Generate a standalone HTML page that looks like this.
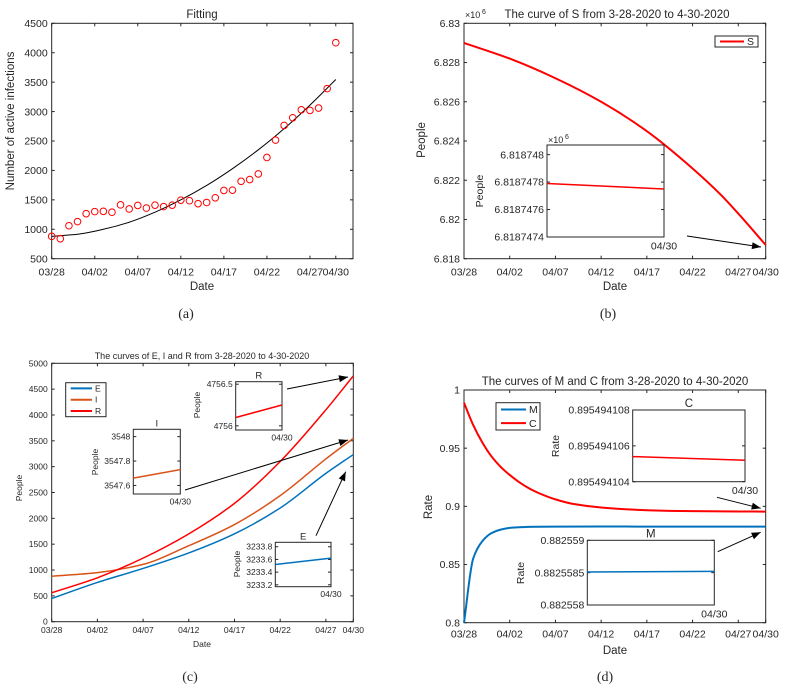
<!DOCTYPE html>
<html><head><meta charset="utf-8"><style>
html,body{margin:0;padding:0;background:#fff;}
svg{display:block;font-family:"Liberation Sans",sans-serif;}
.cap{font-family:"Liberation Serif",serif;font-size:14px;}
</style></head><body>
<svg id="fig" width="790" height="689" viewBox="0 0 790 689" xmlns="http://www.w3.org/2000/svg"></svg>
<script>
// ---------- data ----------
const dateTickDays = [0,5,10,15,20,25,30,33];
const dateTickLabels = ["03/28","04/02","04/07","04/12","04/17","04/22","04/27","04/30"];
// (a) fitting
const aObsDays = [0,1,2,3,4,5,6,7,8,9,10,11,12,13,14,15,16,17,18,19,20,21,22,23,24,25,26,27,28,29,30,31,32,33];
const aObsValues = [880,840,1060,1130,1265,1300,1305,1290,1415,1345,1405,1360,1410,1385,1410,1495,1485,1435,1455,1535,1660,1665,1815,1845,1940,2220,2515,2765,2895,3030,3020,3060,3390,4170];
const aFitDays = [0,3,6,9,12,15,18,21,24,27,30,33];
const aFitValues = [880,915,1000,1120,1290,1500,1745,2030,2350,2710,3110,3545];
const aYTicks = [500,1000,1500,2000,2500,3000,3500,4000,4500];
// (b) S
const bDays = [0,5,10,15,20,25,28,30,33];
const bS = [6.8290,6.8282,6.8272,6.8260,6.8245,6.8226,6.8213,6.8203,6.8187];
const bYTicks = [6.818,6.82,6.822,6.824,6.826,6.828,6.83];
const bYTickLabels = ["6.818","6.82","6.822","6.824","6.826","6.828","6.83"];
const bInsetVals = [6.81874779,6.81874775];
const bInsetTicks = [6.8187474,6.8187476,6.8187478,6.818748];
const bInsetTickLabels = ["6.8187474","6.8187476","6.8187478","6.818748"];
// (c) E I R
const cDays = [0,5,10,15,20,25,30,33];
const cE = [450,760,1030,1330,1700,2200,2870,3234];
const cI = [880,950,1110,1470,1880,2440,3150,3548];
const cR = [560,850,1230,1700,2290,3100,4100,4756];
const cYTicks = [0,500,1000,1500,2000,2500,3000,3500,4000,4500,5000];
const cRInset = [4756.1,4756.25];
const cRInsetTicks = [4756,4756.5];
const cIInset = [3547.66,3547.73];
const cIInsetTicks = [3547.6,3547.8,3548];
const cEInset = [3233.52,3233.62];
const cEInsetTicks = [3233.2,3233.4,3233.6,3233.8];
// (d) M C
const dCDays = [0,1,2,3,4,5,6,7,8,10,12,15,20,25,30,33];
const dC = [0.989,0.970,0.955,0.943,0.934,0.927,0.921,0.916,0.912,0.906,0.902,0.899,0.8967,0.8959,0.8956,0.8955];
const dMDays = [0,1,2,3,4,5,6,7,8,10,15,20,25,30,33];
const dM = [0.800,0.855,0.870,0.877,0.880,0.8815,0.882,0.8824,0.8825,0.8826,0.8827,0.8826,0.8826,0.8826,0.8826];
const dYTicks = [0.8,0.85,0.9,0.95,1];
const dYTickLabels = ["0.8","0.85","0.9","0.95","1"];
const dCInset = [0.8954941054,0.8954941052];
const dCInsetTicks = [0.895494104,0.895494106,0.895494108];
const dMInset = [0.88255851,0.88255852];
const dMInsetTicks = [0.882558,0.8825585,0.882559];

// ---------- helpers ----------
const NS="http://www.w3.org/2000/svg";
const fig=document.getElementById('fig');
function mk(parent,tag,attrs,name,inter){
  const e=document.createElementNS(NS,tag);
  for(const k in attrs) e.setAttribute(k,attrs[k]);
  
  
  parent.appendChild(e);return e;
}
function txt(parent,x,y,s,size,name,opts){
  opts=opts||{};
  const a={x:x,y:y,'font-size':size,'text-anchor':opts.anchor||'middle',fill:'#262626'};
  if(opts.rot) a.transform='rotate(-90 '+x+' '+y+')';
  if(opts.cls) a['class']=opts.cls;
  const t=mk(parent,'text',a,name,false);t.textContent=s;return t;
}
function axes(name,x0,x1,y0,y1,xmin,xmax,ymin,ymax){
  const g=mk(fig,'g',{},name,false);
  const sx=v=>x0+(v-xmin)/(xmax-xmin)*(x1-x0);
  const sy=v=>y1-(v-ymin)/(ymax-ymin)*(y1-y0);
  mk(g,'rect',{x:x0,y:y0,width:x1-x0,height:y1-y0,fill:'#fff',stroke:'#262626','stroke-width':1},name+'-box',false);
  return {g,sx,sy,x0,x1,y0,y1};
}
function xticks(ax,days,labels,size,ly,tl){
  days.forEach((d,i)=>{
    const x=ax.sx(d);
    mk(ax.g,'line',{x1:x,x2:x,y1:ax.y1,y2:ax.y1-tl,stroke:'#262626'},'x-tick',false);
    mk(ax.g,'line',{x1:x,x2:x,y1:ax.y0,y2:ax.y0+tl,stroke:'#262626'},'x-tick-top',false);
    txt(ax.g,x,ly,labels[i],size,'x-tick-label');
  });
}
function yticks(ax,vals,labels,size,tl){
  vals.forEach((v,i)=>{
    const y=ax.sy(v);
    mk(ax.g,'line',{x1:ax.x0,x2:ax.x0+tl,y1:y,y2:y,stroke:'#262626'},'y-tick',false);
    mk(ax.g,'line',{x1:ax.x1,x2:ax.x1-tl,y1:y,y2:y,stroke:'#262626'},'y-tick-right',false);
    txt(ax.g,ax.x0-4,y+size*0.35,labels[i],size,'y-tick-label',{anchor:'end'});
  });
}
// monotone cubic (Fritsch-Carlson) path in pixel space
function smoothPath(pts){
  const n=pts.length,dx=[],dy=[],m=[],t=[];
  for(let i=0;i<n-1;i++){dx.push(pts[i+1][0]-pts[i][0]);dy.push(pts[i+1][1]-pts[i][1]);m.push(dy[i]/dx[i]);}
  t[0]=m[0];t[n-1]=m[n-2];
  for(let i=1;i<n-1;i++){
    if(m[i-1]*m[i]<=0) t[i]=0;
    else{const w1=2*dx[i]+dx[i-1],w2=dx[i]+2*dx[i-1];t[i]=(w1+w2)/(w1/m[i-1]+w2/m[i]);}
  }
  let d='M'+pts[0][0]+','+pts[0][1];
  for(let i=0;i<n-1;i++){
    const h=dx[i]/3;
    d+=' C'+(pts[i][0]+h)+','+(pts[i][1]+t[i]*h)+' '+(pts[i+1][0]-h)+','+(pts[i+1][1]-t[i+1]*h)+' '+pts[i+1][0]+','+pts[i+1][1];
  }
  return d;
}
function line(ax,xs,ys,color,w,name){
  const pts=xs.map((x,i)=>[ax.sx(x),ax.sy(ys[i])]);
  mk(ax.g,'path',{d:smoothPath(pts),fill:'none',stroke:color,'stroke-width':w},name,false);
}
function arrow(g,x1,y1,x2,y2,name){
  mk(g,'line',{x1,y1,x2,y2,stroke:'#000','stroke-width':1},name,false);
  const a=Math.atan2(y2-y1,x2-x1),L=9,W=3.5;
  const bx=x2-L*Math.cos(a),by=y2-L*Math.sin(a);
  const p=[[x2,y2],[bx+W*Math.sin(a),by-W*Math.cos(a)],[bx-W*Math.sin(a),by+W*Math.cos(a)]];
  mk(g,'polygon',{points:p.map(q=>q.join(',')).join(' '),fill:'#000'},name+'-head',false);
}
function inset(parent,name,x0,x1,y0,y1,ymin,ymax,ticks,labels,vals,color,size,title){
  const g=mk(parent,'g',{},name,false);
  const sy=v=>y1-(v-ymin)/(ymax-ymin)*(y1-y0);
  mk(g,'rect',{x:x0,y:y0,width:x1-x0,height:y1-y0,fill:'#fff',stroke:'#262626'},name+'-box',false);
  ticks.forEach((v,i)=>{
    const y=sy(v);
    mk(g,'line',{x1:x0,x2:x0+3,y1:y,y2:y,stroke:'#262626'},name+'-tick',false);
    mk(g,'line',{x1:x1,x2:x1-3,y1:y,y2:y,stroke:'#262626'},name+'-tick-right',false);
    txt(g,x0-3,y+size*0.35,labels[i],size,name+'-tick-label',{anchor:'end'});
  });
  mk(g,'line',{x1:x0,y1:sy(vals[0]),x2:x1,y2:sy(vals[1]),stroke:color,'stroke-width':1.5},name+'-line',false);
  txt(g,x1,y1+size+2,'04/30',size,name+'-x-label');
  if(title) txt(g,(x0+x1)/2,y0-3,title,size+1,name+'-title');
  return g;
}
function legend(g,name,x0,y0,w,h,items,size){
  const lg=mk(g,'g',{},name,true);
  mk(lg,'rect',{x:x0,y:y0,width:w,height:h,fill:'#fff',stroke:'#262626'},name+'-box',false);
  const step=h/items.length;
  items.forEach((it,i)=>{
    const y=y0+step*(i+0.5);
    mk(lg,'line',{x1:x0+5,x2:x0+w-14,y1:y,y2:y,stroke:it[1],'stroke-width':2},'legend-swatch-'+it[0],false);
    txt(lg,x0+w-11,y+size*0.35,it[0],size,'legend-entry-'+it[0],{anchor:'start'});
  });
}

// ---------- (a) ----------
const A=axes('panel-a-fitting',51.7,353,23.3,258.7,0,35,500,4500);
xticks(A,dateTickDays,dateTickLabels,10.5,275.5,3);
yticks(A,aYTicks,aYTicks.map(String),10.5,3);
line(A,aFitDays,aFitValues,'#000',1,'fit-curve');
aObsDays.forEach((d,i)=>{
  mk(A.g,'circle',{cx:A.sx(d),cy:A.sy(aObsValues[i]),r:3.3,fill:'none',stroke:'#f00','stroke-width':1},'observed-point',false);
});
txt(fig,202,18,'Fitting',11.5,'title-a');
txt(fig,202,290,'Date',11.5,'x-axis-title-a');
txt(fig,14,121,'Number of active infections',11.5,'y-axis-title-a',{rot:true});
txt(fig,186,318,'(a)',14,'caption-a',{cls:'cap'});

// ---------- (b) ----------
const B=axes('panel-b-s',464,765.7,23.3,258.7,0,33,6.818,6.83);
xticks(B,dateTickDays,dateTickLabels,10.5,275.5,3);
yticks(B,bYTicks,bYTickLabels,10.5,3);
line(B,bDays,bS,'#f00',2,'s-curve');
txt(fig,465,18,'×10',9,'exponent-b',{anchor:'start'});
txt(fig,482,14,'6',7,'exponent-power-b',{anchor:'start'});
txt(fig,617,18,'The curve of S from 3-28-2020 to 4-30-2020',11.5,'title-b');
txt(fig,615,290,'Date',11.5,'x-axis-title-b');
txt(fig,425,140,'People',11.5,'y-axis-title-b',{rot:true});
legend(B.g,'legend-b',715,36,43,11,[['S','#f00']],10.5);
inset(B.g,'inset-s',547,664,145,237,6.8187474,6.81874807,bInsetTicks,bInsetTickLabels,bInsetVals,'#f00',10.5,null);
txt(B.g,548,143,'×10',9,'inset-s-exponent',{anchor:'start'});
txt(B.g,565,139,'6',7,'inset-s-exponent-power',{anchor:'start'});
txt(B.g,483,191,'People',10.5,'inset-s-y-title',{rot:true});
arrow(B.g,687,236,761,247,'arrow-s');
txt(fig,608,318,'(b)',14,'caption-b',{cls:'cap'});

// ---------- (c) ----------
const C=axes('panel-c-eir',51.7,353.3,363.3,621.7,0,33,0,5000);
xticks(C,dateTickDays,dateTickLabels,8.5,633,3);
yticks(C,cYTicks,cYTicks.map(String),8.5,3);
line(C,cDays,cE,'#0072bd',1.5,'e-curve');
line(C,cDays,cI,'#d95319',1.5,'i-curve');
line(C,cDays,cR,'#f00',1.5,'r-curve');
txt(fig,202,359,'The curves of E, I and R from 3-28-2020 to 4-30-2020',9,'title-c');
txt(fig,202,647,'Date',8.5,'x-axis-title-c');
txt(fig,22,488,'People',8.5,'y-axis-title-c',{rot:true});
legend(C.g,'legend-c',65.7,382.7,40.3,34,[['E','#0072bd'],['I','#d95319'],['R','#f00']],8.5);
inset(C.g,'inset-r',235.7,282,381.7,430,4755.95,4756.53,cRInsetTicks,['4756','4756.5'],cRInset,'#f00',8.5,'R');
txt(C.g,200,405,'People',8.5,'inset-r-y-title',{rot:true});
arrow(C.g,287,389,348,377,'arrow-r');
inset(C.g,'inset-i',133.3,180.3,429.3,494,3547.53,3548.06,cIInsetTicks,['3547.6','3547.8','3548'],cIInset,'#d95319',8.5,'I');
txt(C.g,98,462,'People',8.5,'inset-i-y-title',{rot:true});
arrow(C.g,185,490,348,440,'arrow-i');
inset(C.g,'inset-e',275.3,331,542.3,586.7,3233.17,3233.87,cEInsetTicks,['3233.2','3233.4','3233.6','3233.8'],cEInset,'#0072bd',8.5,'E');
txt(C.g,240,564,'People',8.5,'inset-e-y-title',{rot:true});
arrow(C.g,316,535.7,345.7,471.7,'arrow-e');
txt(fig,190,681,'(c)',14,'caption-c',{cls:'cap'});

// ---------- (d) ----------
const D=axes('panel-d-mc',464,765.7,390,622.7,0,33,0.8,1);
xticks(D,dateTickDays,dateTickLabels,10.5,637.5,3);
yticks(D,dYTicks,dYTickLabels,10.5,3);
line(D,dCDays,dC,'#f00',2,'c-curve');
line(D,dMDays,dM,'#0072bd',2,'m-curve');
txt(fig,615,385,'The curves of M and C from 3-28-2020 to 4-30-2020',11.5,'title-d');
txt(fig,615,654,'Date',11.5,'x-axis-title-d');
txt(fig,432,507,'Rate',11.5,'y-axis-title-d',{rot:true});
legend(D.g,'legend-d',496,402.7,44,27.3,[['M','#0072bd'],['C','#f00']],10.5);
inset(D.g,'inset-c',632.7,745,410,481.7,0.895494104,0.895494108,dCInsetTicks,['0.895494104','0.895494106','0.895494108'],dCInset,'#f00',10.5,'C');
txt(D.g,559,446,'Rate',10.5,'inset-c-y-title',{rot:true});
arrow(D.g,717,497.3,760.7,508.3,'arrow-c');
inset(D.g,'inset-m',587.3,714.3,540.3,605,0.882558,0.882559,dMInsetTicks,['0.882558','0.8825585','0.882559'],dMInset,'#0072bd',10.5,'M');
txt(D.g,524,573,'Rate',10.5,'inset-m-y-title',{rot:true});
arrow(D.g,717.7,551.7,760.7,532.3,'arrow-m');
txt(fig,605,681,'(d)',14,'caption-d',{cls:'cap'});
</script>
</body></html>
